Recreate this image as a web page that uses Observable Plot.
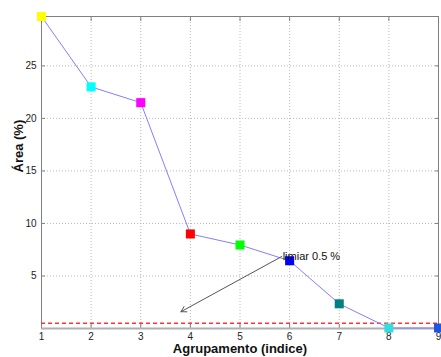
<!DOCTYPE html>
<html>
<head>
<meta charset="utf-8">
<script src="https://cdn.jsdelivr.net/npm/d3@7"></script>
<script src="https://cdn.jsdelivr.net/npm/@observablehq/plot@0.6"></script>
<style>
  html, body { margin: 0; padding: 0; background: #fff; }
  #chart svg { display: block; }
</style>
</head>
<body>
<div id="chart"></div>
<script>
// Cluster index and area share of each cluster
const clusters = [1, 2, 3, 4, 5, 6, 7, 8, 9];
const areas = [29.7, 23.0, 21.5, 9.0, 7.95, 6.45, 2.35, 0.05, 0.05];
const markerColors = ["#ffff00", "#00ffff", "#ff00ff", "#ff0000", "#00ff00", "#0000ff", "#008080", "#33dddd", "#2255dd"];

// Threshold and its annotation
const threshold = [0.5];
const noteText = ["limiar 0.5 %"];
const noteAt = [5.86, 6.9];
const arrowFrom = [5.84, 6.85];
const arrowTo = [3.81, 1.6];

const xTicks = [1, 2, 3, 4, 5, 6, 7, 8, 9];
const yTicks = [5, 10, 15, 20, 25];

const points = clusters.map((c, i) => ({x: c, y: areas[i], color: markerColors[i]}));

const chart = Plot.plot({
  width: 441,
  height: 357,
  marginLeft: 41,
  marginRight: 3,
  marginTop: 16,
  marginBottom: 29,
  style: {fontFamily: "'Liberation Sans', Arial, sans-serif", fontSize: "10px", color: "#222", background: "#fff"},
  x: {domain: [1, 9]},
  y: {domain: [0, 29.7]},
  marks: [
    Plot.gridX(xTicks, {stroke: "#b8b8b8", strokeOpacity: 1, strokeDasharray: "1,2"}),
    Plot.gridY(yTicks, {stroke: "#b8b8b8", strokeOpacity: 1, strokeDasharray: "1,2"}),
    Plot.frame({stroke: "#808080"}),
    Plot.axisX(xTicks, {anchor: "bottom", tickSize: -4, tickPadding: 8, stroke: "#808080", label: null}),
    Plot.axisX(xTicks, {anchor: "top", tickSize: -4, text: null, stroke: "#808080", label: null}),
    Plot.axisY(yTicks, {anchor: "left", tickSize: -4, tickPadding: 9, stroke: "#808080", label: null}),
    Plot.axisY(yTicks, {anchor: "right", tickSize: -4, text: null, stroke: "#808080", label: null}),
    Plot.ruleY([0], {stroke: "#b0b0b0", strokeWidth: 2}),
    Plot.ruleY(threshold, {stroke: "#ff3333", strokeOpacity: 1, strokeWidth: 1.3, strokeDasharray: "4,3"}),
    Plot.line(points, {x: "x", y: "y", stroke: "#8080ff", strokeWidth: 1}),
    Plot.dot(points, {x: "x", y: "y", symbol: "square", r: 5.1, fill: "color", stroke: "none"}),
    Plot.arrow([0], {
      x1: () => arrowFrom[0], y1: () => arrowFrom[1],
      x2: () => arrowTo[0], y2: () => arrowTo[1],
      stroke: "#555", strokeWidth: 1, headLength: 9
    }),
    Plot.text(noteText, {x: () => noteAt[0], y: () => noteAt[1], text: d => d, textAnchor: "start", fontSize: 11, fill: "#111"}),
    Plot.text(["Área (%)"], {frameAnchor: "left", dx: -23, rotate: -90, fontSize: 13, fontWeight: "bold", fill: "#111"}),
    Plot.text(["Agrupamento (indice)"], {frameAnchor: "bottom", dy: 24, fontSize: 13, fontWeight: "bold", fill: "#111"})
  ]
});

document.getElementById("chart").appendChild(chart);
</script>
</body>
</html>
